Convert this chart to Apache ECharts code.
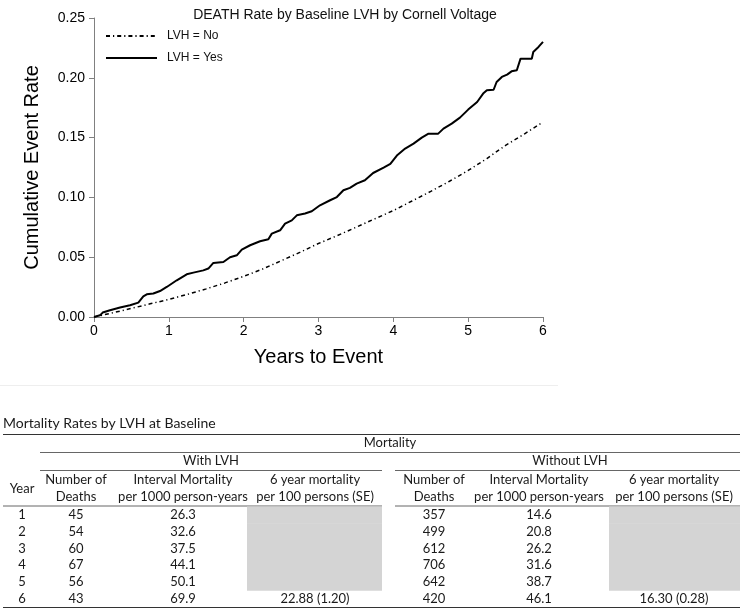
<!DOCTYPE html>
<html><head><meta charset="utf-8">
<script src="https://cdn.jsdelivr.net/npm/echarts@6/dist/echarts.min.js"></script>
<style>html,body{margin:0;padding:0;background:#fff}#c{width:742px;height:610px}</style>
</head><body><div id="c"></div>
<script>
// ---- chart data ----
var chartTitle = 'DEATH Rate by Baseline LVH by Cornell Voltage';
var seriesNames = ['LVH = No', 'LVH = Yes'];
var xTicks = [0, 1, 2, 3, 4, 5, 6];
var yTicks = [0, 0.05, 0.10, 0.15, 0.20, 0.25];
var lvhNo = [[0,0],[0.25,0.0035],[0.5,0.0072],[0.75,0.011],[1.0,0.0147],[1.25,0.019],[1.5,0.0235],[1.75,0.0285],[2.0,0.034],[2.25,0.040],[2.5,0.047],[2.75,0.054],[3.0,0.0615],[3.25,0.068],[3.5,0.075],[3.75,0.082],[4.0,0.089],[4.25,0.097],[4.5,0.105],[4.75,0.1135],[5.0,0.1225],[5.25,0.1325],[5.5,0.1435],[5.75,0.153],[6.0,0.163]];
var lvhYes = [[0,0],[0.08,0.0014],[0.116,0.0037],[0.214,0.0056],[0.348,0.0079],[0.481,0.0098],[0.592,0.012],[0.659,0.0173],[0.705,0.019],[0.793,0.0196],[0.882,0.0217],[0.972,0.0251],[1.106,0.0307],[1.239,0.0357],[1.328,0.0371],[1.461,0.039],[1.528,0.0405],[1.595,0.0452],[1.729,0.046],[1.818,0.05],[1.908,0.0516],[1.975,0.0564],[2.086,0.06],[2.219,0.0633],[2.33,0.065],[2.376,0.0697],[2.487,0.0725],[2.553,0.078],[2.643,0.0808],[2.71,0.085],[2.82,0.0865],[2.91,0.0884],[3.02,0.0934],[3.155,0.0976],[3.245,0.1003],[3.333,0.106],[3.42,0.108],[3.51,0.1115],[3.62,0.1143],[3.73,0.1204],[3.87,0.1249],[3.96,0.128],[4.047,0.135],[4.158,0.1408],[4.27,0.145],[4.38,0.15],[4.47,0.1533],[4.60,0.1533],[4.67,0.1575],[4.78,0.1617],[4.89,0.1667],[5.0,0.1734],[5.12,0.1798],[5.2,0.1868],[5.25,0.1896],[5.34,0.19],[5.38,0.1965],[5.45,0.2007],[5.52,0.2027],[5.58,0.2054],[5.65,0.2063],[5.70,0.216],[5.85,0.216],[5.87,0.2216],[5.94,0.2258],[6.0,0.230]];

// ---- table data ----
var tableTitle = 'Mortality Rates by LVH at Baseline';
var groupHeader = 'Mortality';
var subGroups = ['With LVH', 'Without LVH'];
var colHeaderTop = ['Year', 'Number of', 'Interval Mortality', '6 year mortality', 'Number of', 'Interval Mortality', '6 year mortality'];
var colHeaderBottom = ['', 'Deaths', 'per 1000 person-years', 'per 100 persons (SE)', 'Deaths', 'per 1000 person-years', 'per 100 persons (SE)'];
var years = ['1', '2', '3', '4', '5', '6'];
var withDeaths = ['45', '54', '60', '67', '56', '43'];
var withRate = ['26.3', '32.6', '37.5', '44.1', '50.1', '69.9'];
var withSixYear = ['', '', '', '', '', '22.88 (1.20)'];
var withoutDeaths = ['357', '499', '612', '706', '642', '420'];
var withoutRate = ['14.6', '20.8', '26.2', '31.6', '38.7', '46.1'];
var withoutSixYear = ['', '', '', '', '', '16.30 (0.28)'];

// ---- table layout ----
var TF = '13px Lato, "Open Sans", sans-serif';
var TTF = '14px Lato, "Open Sans", sans-serif';
var colX = [22, 76, 183, 315, 434, 539, 674];
var grayCols = [[247, 382], [609, 740]];
var rowTop = 506.6, rowH = 16.75;
var g = [];
function txt(t, x, y, align, font) {
  g.push({type: 'text', silent: true, style: {text: t, x: x, y: y, font: font || TF, fill: '#1a1a1a', align: align || 'center', verticalAlign: 'middle'}});
}
function ln(x1, y1, x2, y2, w, c) {
  g.push({type: 'line', silent: true, shape: {x1: x1, y1: y1, x2: x2, y2: y2}, style: {stroke: c || '#555', lineWidth: w || 1}});
}
// faint separator
ln(0, 385.5, 558, 385.5, 1, '#eeeeee');
txt(tableTitle, 3, 423, 'left', TTF);
ln(3, 434.5, 740, 434.5, 1.2, '#333');
txt(groupHeader, 390, 443);
ln(40, 452.5, 740, 452.5, 1, '#666');
txt(subGroups[0], 211, 461);
txt(subGroups[1], 570, 461);
ln(40, 470.5, 382, 470.5, 1, '#666');
ln(395, 470.5, 740, 470.5, 1, '#666');
colX.forEach(function (x, i) {
  if (colHeaderBottom[i]) { txt(colHeaderTop[i], x, 479.5); txt(colHeaderBottom[i], x, 497); }
  else txt(colHeaderTop[i], x, 488.5);
});
ln(3, 506, 382, 506, 1, '#666');
ln(395, 506, 740, 506, 1, '#666');
var cols = [years, withDeaths, withRate, withSixYear, withoutDeaths, withoutRate, withoutSixYear];
years.forEach(function (y, r) {
  var top = rowTop + r * rowH;
  [[3, 0], [6, 1]].forEach(function (p) {
    if (!cols[p[0]][r]) {
      var gc = grayCols[p[1]];
      g.push({type: 'rect', silent: true, shape: {x: gc[0], y: top, width: gc[1] - gc[0], height: rowH + 0.3}, style: {fill: '#d4d4d4'}});
    }
  });
  cols.forEach(function (col, c) { if (col[r]) txt(col[r], colX[c], top + rowH / 2); });
});
ln(3, 607.5, 740, 607.5, 1.2, '#333');

var F = '"Liberation Sans", Arial, sans-serif';
var chart = echarts.init(document.getElementById('c'));
chart.setOption({
  animation: false,
  backgroundColor: '#fff',
  title: {text: chartTitle, left: 340, top: 3, textAlign: 'center', textStyle: {fontFamily: F, fontSize: 14, fontWeight: 'normal', color: '#111'}},
  legend: {
    data: seriesNames, orient: 'vertical', left: 100, top: 25, itemWidth: 51, itemHeight: 10, itemGap: 10,
    itemStyle: {opacity: 0},
    textStyle: {fontFamily: F, fontSize: 12, color: '#111', padding: [0, 0, 0, 5]}
  },
  grid: {left: 94, top: 18, right: 199, bottom: 293},
  xAxis: {
    type: 'value', min: xTicks[0], max: xTicks[xTicks.length - 1], interval: 1,
    name: 'Years to Event', nameLocation: 'middle', nameGap: 30,
    nameTextStyle: {fontFamily: F, fontSize: 20, color: '#000'},
    axisLine: {lineStyle: {color: '#808080', width: 1}},
    axisTick: {length: 5, lineStyle: {color: '#808080'}},
    axisLabel: {fontFamily: F, fontSize: 14, color: '#000', margin: 7},
    splitLine: {show: false}
  },
  yAxis: {
    type: 'value', min: yTicks[0], max: yTicks[yTicks.length - 1], interval: 0.05,
    name: 'Cumulative Event Rate', nameLocation: 'middle', nameGap: 52,
    nameTextStyle: {fontFamily: F, fontSize: 20, color: '#000'},
    axisLine: {show: true, lineStyle: {color: '#808080', width: 1}},
    axisTick: {show: true, length: 5, lineStyle: {color: '#808080'}},
    axisLabel: {fontFamily: F, fontSize: 14, color: '#000', margin: 9, formatter: function (v) { return v.toFixed(2); }},
    splitLine: {show: false}
  },
  series: [
    {name: seriesNames[0], type: 'line', data: lvhNo, showSymbol: false, symbol: 'none', smooth: false,
     lineStyle: {color: '#000', width: 1.5, type: [4, 3, 1.2, 3]}, itemStyle: {color: '#000'}},
    {name: seriesNames[1], type: 'line', data: lvhYes, showSymbol: false, symbol: 'none',
     lineStyle: {color: '#000', width: 2}, itemStyle: {color: '#000'}}
  ],
  graphic: g
});
</script></body></html>
